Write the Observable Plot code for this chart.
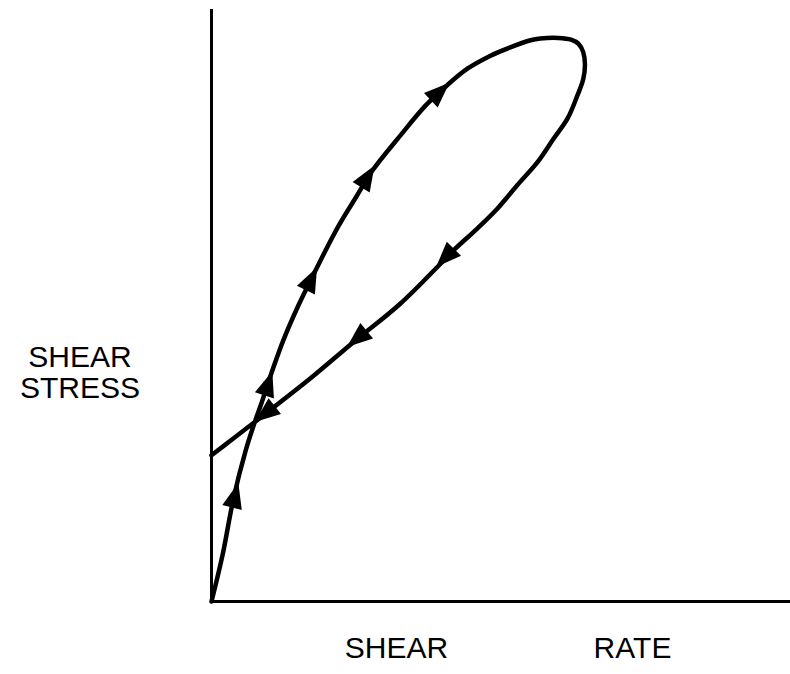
<!DOCTYPE html>
<html>
<head>
<meta charset="utf-8">
<script src="https://cdn.jsdelivr.net/npm/d3@7"></script>
<script src="https://cdn.jsdelivr.net/npm/@observablehq/plot@0.6"></script>
<style>
  html, body { margin: 0; padding: 0; background: #fff; }
</style>
</head>
<body>
<div id="chart"></div>
<script>
// Rising (loading) branch of the hysteresis loop: shear rate vs shear stress (arbitrary units)
const loadingX = [0, 0.19, 0.38, 0.59, 0.74, 0.88, 0.98, 1.24, 1.50, 1.78, 2.18, 2.49, 2.78, 3.26, 3.70, 4.08, 4.42, 4.82, 5.16, 5.51, 5.68, 5.99, 6.21, 6.34, 6.42];
const loadingY = [0, 0.78, 1.74, 2.55, 3.01, 3.40, 3.70, 4.41, 5.00, 5.56, 6.32, 6.82, 7.28, 7.87, 8.38, 8.73, 9.00, 9.22, 9.36, 9.48, 9.51, 9.52, 9.49, 9.42, 9.28];
// Falling (unloading) branch
const unloadingX = [6.45, 6.42, 6.32, 6.15, 5.91, 5.63, 5.28, 4.94, 4.59, 4.21, 3.96, 3.26, 2.45, 1.71, 0.85, 0.36, 0];
const unloadingY = [9.07, 8.82, 8.55, 8.16, 7.82, 7.42, 7.03, 6.64, 6.30, 5.96, 5.71, 5.03, 4.38, 3.77, 3.11, 2.74, 2.47];
// Direction arrows placed along the loop
const arrowX = [0.40, 0.97, 1.71, 2.68, 3.92, 4.06, 2.54, 0.95];
const arrowY = [1.76, 3.65, 5.42, 7.15, 8.59, 5.83, 4.46, 3.19];
const arrowBranch = ["loading", "loading", "loading", "loading", "loading", "unloading", "unloading", "unloading"];
// Labels
const yLabel = "SHEAR\nSTRESS";
const xLabels = ["SHEAR", "RATE"];

const loading = loadingX.map((x, i) => ({x, y: loadingY[i]}));
const unloading = unloadingX.map((x, i) => ({x, y: unloadingY[i]}));
const loop = loading.concat(unloading);

const width = 790, height = 674;
const marginLeft = 211, marginRight = 0, marginTop = 9, marginBottom = 73;
const xDomain = [0, 10], yDomain = [0, 10];

const sx = Plot.scale({x: {domain: xDomain, range: [marginLeft, width - marginRight]}});
const sy = Plot.scale({y: {domain: yDomain, range: [height - marginBottom, marginTop]}});

function angleFor(px, py, branch) {
  const pts = branch === "loading" ? loading : unloading;
  const X = sx.apply(px), Y = sy.apply(py);
  let best = Infinity, ang = 0;
  for (let i = 0; i < pts.length - 1; i++) {
    const x1 = sx.apply(pts[i].x), y1 = sy.apply(pts[i].y);
    const x2 = sx.apply(pts[i + 1].x), y2 = sy.apply(pts[i + 1].y);
    const dx = x2 - x1, dy = y2 - y1;
    const L2 = dx * dx + dy * dy;
    let t = ((X - x1) * dx + (Y - y1) * dy) / L2;
    t = Math.max(0, Math.min(1, t));
    const qx = x1 + t * dx, qy = y1 + t * dy;
    const d = (X - qx) ** 2 + (Y - qy) ** 2;
    if (d < best) { best = d; ang = Math.atan2(dx, -dy) * 180 / Math.PI; }
  }
  return ang;
}

const arrows = arrowX.map((x, i) => ({x, y: arrowY[i], angle: angleFor(x, arrowY[i], arrowBranch[i])}));

// Filled arrowhead pointing "up" before rotation (fixed pixel size)
const arrowHead = {
  draw(context) {
    context.moveTo(0, -15);
    context.lineTo(10, 10.5);
    context.lineTo(-10, 10.5);
    context.closePath();
  }
};

const font = "Liberation Sans, Arial, Helvetica, sans-serif";

const chart = Plot.plot({
  width, height, marginLeft, marginRight, marginTop, marginBottom,
  style: {background: "#fff", fontFamily: font},
  x: {domain: xDomain, axis: null},
  y: {domain: yDomain, axis: null},
  marks: [
    Plot.ruleX([0], {stroke: "#000", strokeWidth: 3}),
    Plot.ruleY([0], {stroke: "#000", strokeWidth: 3}),
    Plot.line(loop, {x: "x", y: "y", curve: "catmull-rom", stroke: "#000", strokeWidth: 4.5, strokeLinecap: "round", strokeLinejoin: "round"}),
    Plot.dot(arrows, {x: "x", y: "y", rotate: "angle", symbol: arrowHead, r: 10, fill: "#000", stroke: "none"}),
    Plot.text([yLabel], {frameAnchor: "left", text: d => d, dx: -131.5, dy: 67, fontSize: 30, lineHeight: 1.03, textAnchor: "middle", fill: "#000"}),
    Plot.text([xLabels[0]], {frameAnchor: "bottom", text: d => d, dx: -104.5, dy: 56, fontSize: 30, textAnchor: "middle", fill: "#000"}),
    Plot.text([xLabels[1]], {frameAnchor: "bottom", text: d => d, dx: 131.5, dy: 56, fontSize: 30, textAnchor: "middle", fill: "#000"})
  ]
});

document.getElementById("chart").appendChild(chart);
</script>
</body>
</html>
